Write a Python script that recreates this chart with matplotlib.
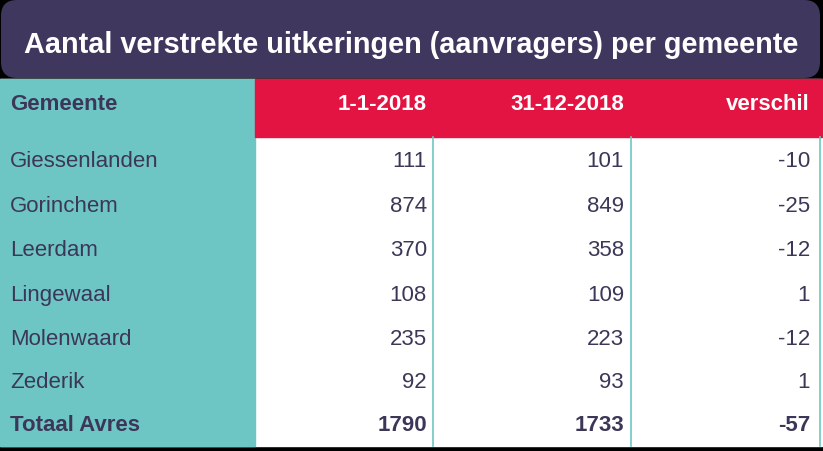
import matplotlib.pyplot as plt
from matplotlib.patches import FancyBboxPatch, Rectangle

title = 'Aantal verstrekte uitkeringen (aanvragers) per gemeente'
headers = ['Gemeente', '1-1-2018', '31-12-2018', 'verschil']
gemeenten = ['Giessenlanden', 'Gorinchem', 'Leerdam', 'Lingewaal',
             'Molenwaard', 'Zederik', 'Totaal Avres']
start = [111, 874, 370, 108, 235, 92, 1790]
eind = [101, 849, 358, 109, 223, 93, 1733]
verschil = [-10, -25, -12, 1, -12, 1, -57]

purple = '#40375f'
red = '#e31441'
teal = '#6ec6c4'
txt = '#3c3757'

plt.rcParams['font.family'] = ['Liberation Sans', 'DejaVu Sans']

fig = plt.figure(figsize=(8.23, 4.52), dpi=100, facecolor='black')
ax = fig.add_axes([0, 0, 1, 1])
ax.set_xlim(0, 823)
ax.set_ylim(452, 0)
ax.axis('off')

# body
ax.add_patch(Rectangle((0, 80), 822, 367, color='white', zorder=1))
ax.add_patch(Rectangle((0, 80), 255, 367, color=teal, zorder=2))
ax.add_patch(Rectangle((255, 80), 567, 58, color=red, zorder=2))
for x in [433, 631, 820]:
    ax.plot([x, x], [138, 447], color=teal, lw=1.2, zorder=3)

# title box
ax.add_patch(FancyBboxPatch((1, 1), 819, 78, boxstyle='round,pad=0,rounding_size=16',
                            fc=purple, ec='none', zorder=4))
ax.text(411, 45, title, color='white', fontsize=20.8, fontweight='bold',
        ha='center', va='center', zorder=5)

fs = 16
# header row
ax.text(10, 104, headers[0], color=txt, fontsize=fs, fontweight='bold',
        va='center', zorder=5)
for x, h in zip([427, 624, 810], headers[1:]):
    ax.text(x, 104, h, color='white', fontsize=fs, fontweight='bold',
            ha='right', va='center', zorder=5)

rows_y = [162, 207, 251, 296, 340, 383, 426]
for i, y in enumerate(rows_y):
    w = 'bold' if i == len(rows_y) - 1 else 'normal'
    ax.text(10, y, gemeenten[i], color=txt, fontsize=fs, fontweight=w,
            va='center', zorder=5)
    for x, v in zip([427, 624, 810], [start[i], eind[i], verschil[i]]):
        ax.text(x, y, str(v), color=txt, fontsize=fs, fontweight=w,
                ha='right', va='center', zorder=5)

fig.savefig('out.png', dpi=100, facecolor='black')
